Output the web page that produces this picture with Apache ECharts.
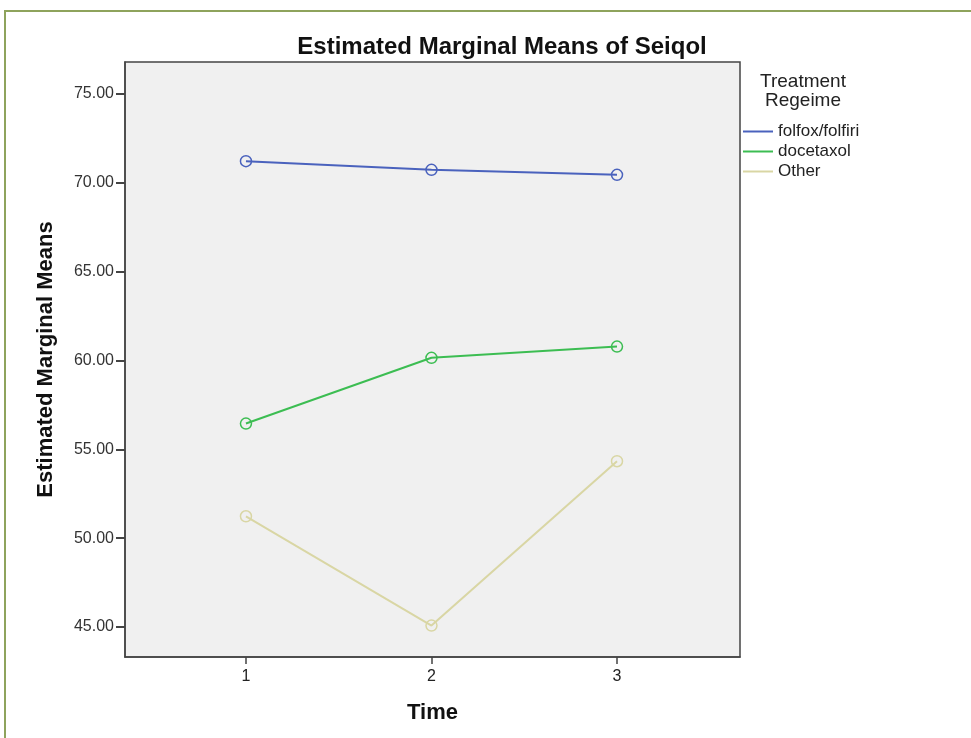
<!DOCTYPE html>
<html>
<head>
<meta charset="utf-8">
<script src="https://cdn.jsdelivr.net/npm/echarts@6/dist/echarts.min.js"></script>
<style>
  html, body { margin: 0; padding: 0; background: #fff; }
  #chart { width: 971px; height: 738px; }
</style>
</head>
<body>
<div id="chart"></div>
<script>
// values
var times = [1, 2, 3];
var folfox = [71.22, 70.73, 70.45];
var docetaxol = [56.45, 60.15, 60.78];
var other = [51.23, 45.08, 54.33];
var yTicks = [45, 50, 55, 60, 65, 70, 75];

var colors = {
    'folfox/folfiri': '#4a62bd',
    'docetaxol': '#3cbd52',
    'Other': '#d9d6a4'
};

function pairs(vals) {
    var d = [];
    for (var i = 0; i < times.length; i++) {
        d.push([times[i], vals[i]]);
    }
    return d;
}

function line(name, vals) {
    var c = colors[name];
    return {
        name: name,
        type: 'line',
        data: pairs(vals),
        symbol: 'circle',
        symbolSize: 11,
        lineStyle: { color: c, width: 2 },
        itemStyle: { color: 'transparent', borderColor: c, borderWidth: 1.5 },
        animation: false
    };
}

var font = 'Arial, "Liberation Sans", sans-serif';

var option = {
    backgroundColor: '#fff',
    title: {
        text: 'Estimated Marginal Means of Seiqol',
        left: 497,
        top: 30,
        textAlign: 'center',
        textStyle: { fontFamily: font, fontSize: 24, fontWeight: 'bold', color: '#111' }
    },
    grid: {
        left: 125, right: 231, top: 62, bottom: 81,
        show: true,
        backgroundColor: '#f0f0f0',
        borderColor: '#444',
        borderWidth: 1.5
    },
    legend: {
        orient: 'vertical',
        left: 743,
        top: 123,
        padding: 0,
        itemWidth: 30,
        itemHeight: 2,
        itemGap: 3,
        icon: 'rect',
        textStyle: { fontFamily: font, fontSize: 17, lineHeight: 17, color: '#222' },
        data: Object.keys(colors).map(function (n) {
            return { name: n, itemStyle: { color: colors[n], borderWidth: 0 } };
        })
    },
    xAxis: {
        type: 'value',
        min: 0.348,
        max: 3.663,
        name: 'Time',
        nameLocation: 'middle',
        nameGap: 45,
        nameTextStyle: { fontFamily: font, fontSize: 22, fontWeight: 'bold', color: '#111' },
        axisLine: { show: true, lineStyle: { color: '#444', width: 1.5 } },
        axisTick: { show: true, length: 7, customValues: times, lineStyle: { color: '#444', width: 1.5 } },
        axisLabel: { customValues: times, fontFamily: font, fontSize: 16, color: '#222', margin: 12 },
        splitLine: { show: false }
    },
    yAxis: {
        type: 'value',
        min: 43.31,
        max: 76.8,
        name: 'Estimated Marginal Means',
        nameLocation: 'middle',
        nameGap: 68,
        nameTextStyle: { fontFamily: font, fontSize: 22, fontWeight: 'bold', color: '#111' },
        axisLine: { show: true, lineStyle: { color: '#444', width: 1.5 } },
        axisTick: { show: true, length: 9, customValues: yTicks, lineStyle: { color: '#444', width: 2 } },
        axisLabel: {
            customValues: yTicks,
            fontFamily: font, fontSize: 16, color: '#333', margin: 11,
            formatter: function (v) { return v.toFixed(2); }
        },
        splitLine: { show: false }
    },
    graphic: [
        {
            type: 'polyline',
            shape: { points: [[5, 745], [5, 11], [975, 11]] },
            style: { stroke: '#8ea35c', lineWidth: 2, fill: null },
            silent: true
        },
        {
            type: 'text',
            x: 803,
            y: 72,
            style: {
                text: 'Treatment\nRegeime',
                align: 'center',
                font: '19px ' + font,
                fill: '#222',
                lineHeight: 19
            }
        }
    ],
    series: [
        line('folfox/folfiri', folfox),
        line('docetaxol', docetaxol),
        line('Other', other)
    ]
};

var myChart = echarts.init(document.getElementById('chart'));
myChart.setOption(option);
</script>
</body>
</html>
